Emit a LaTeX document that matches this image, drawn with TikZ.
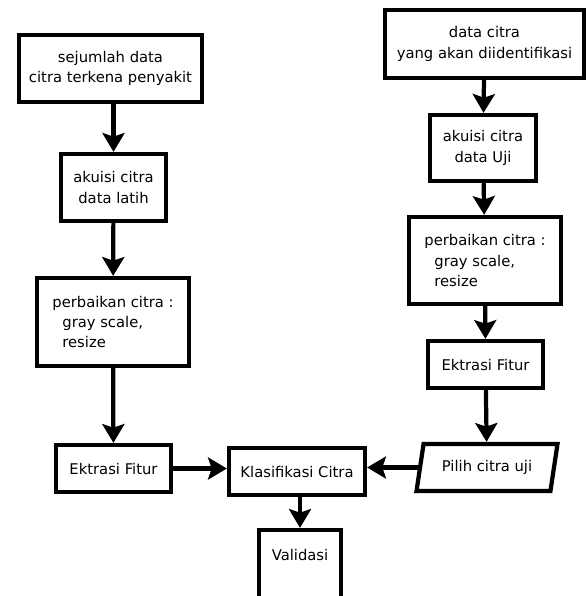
\documentclass[tikz,border=0pt]{standalone}
\usepackage{fontspec}
\setmainfont{DejaVu Sans}
\usetikzlibrary{arrows.meta,shapes.geometric,positioning,calc}

\begin{document}
\begin{tikzpicture}[x=0.025cm, y=-0.025cm,
    box/.style={draw, line width=3pt, align=center, inner sep=2pt, font=\fontsize{10.5}{14.5}\selectfont},
    arr/.style={line width=3pt, -{Stealth[length=0.47cm, width=0.55cm, inset=0.09cm]}}]
    \useasboundingbox (0,0) rectangle (587,596);
    \clip (0,0) rectangle (587,596);

    % Training data (left)
    \node[box, minimum width=4.575cm, minimum height=1.675cm] (dataLatih) at (110.5,68.5) {sejumlah data\\citra terkena penyakit};
    \node[box, minimum width=2.625cm, minimum height=1.675cm] (akuisiLatih) at (113.5,187.5) {akuisi citra\\data latih};
    \node[box, align=left, minimum width=3.8cm, minimum height=2.2cm] (perbaikanLatih) at (113,322) {perbaikan citra :\\\hspace*{0.25cm}gray scale,\\\hspace*{0.25cm}resize};
    \node[box, minimum width=2.875cm, minimum height=1.175cm] (fiturLatih) at (113.5,468.5) {Ektrasi Fitur};

    % Classification
    \node[box, minimum width=3.4cm, minimum height=1.175cm] (klasifikasi) at (297,471.5) {Klasifikasi Citra};
    \node[box, minimum width=2.05cm, minimum height=2cm, text depth=0.75cm] (validasi) at (300,570) {Validasi};

    % Test data (right)
    \node[box, minimum width=4.975cm, minimum height=1.7cm] (dataUji) at (484.5,44) {data citra\\yang akan diidentifikasi};
    \node[box, minimum width=2.65cm, minimum height=1.65cm] (akuisiUji) at (483,148) {akuisi citra\\data Uji};
    \node[box, align=left, minimum width=3.8cm, minimum height=2.175cm] (perbaikanUji) at (485,260.5) {perbaikan citra :\\\hspace*{0.25cm}gray scale,\\\hspace*{0.25cm}resize};
    \node[box, minimum width=2.875cm, minimum height=1.175cm] (fiturUji) at (485.5,364.5) {Ektrasi Fitur};
    \node[box, trapezium, trapezium left angle=75, trapezium right angle=105, trapezium stretches=true,
          minimum width=3.55cm, minimum height=1.175cm] (pilih) at (487,467.5) {Pilih citra uji};

    % Arrows
    \draw[arr] (dataLatih.south -| akuisiLatih) -- (akuisiLatih.north);
    \draw[arr] (akuisiLatih) -- (perbaikanLatih);
    \draw[arr] (perbaikanLatih) -- (fiturLatih);
    \draw[arr] (fiturLatih.east) -- (fiturLatih.east -| klasifikasi.west);
    \draw[arr] (klasifikasi.south -| validasi) -- (validasi.north);

    \draw[arr] (dataUji) -- (akuisiUji);
    \draw[arr] (akuisiUji) -- (perbaikanUji);
    \draw[arr] (perbaikanUji) -- (fiturUji);
    \draw[arr] (fiturUji) -- (pilih);
    \draw[arr] (pilih.west) -- (pilih.west -| klasifikasi.east);
\end{tikzpicture}
\end{document}
